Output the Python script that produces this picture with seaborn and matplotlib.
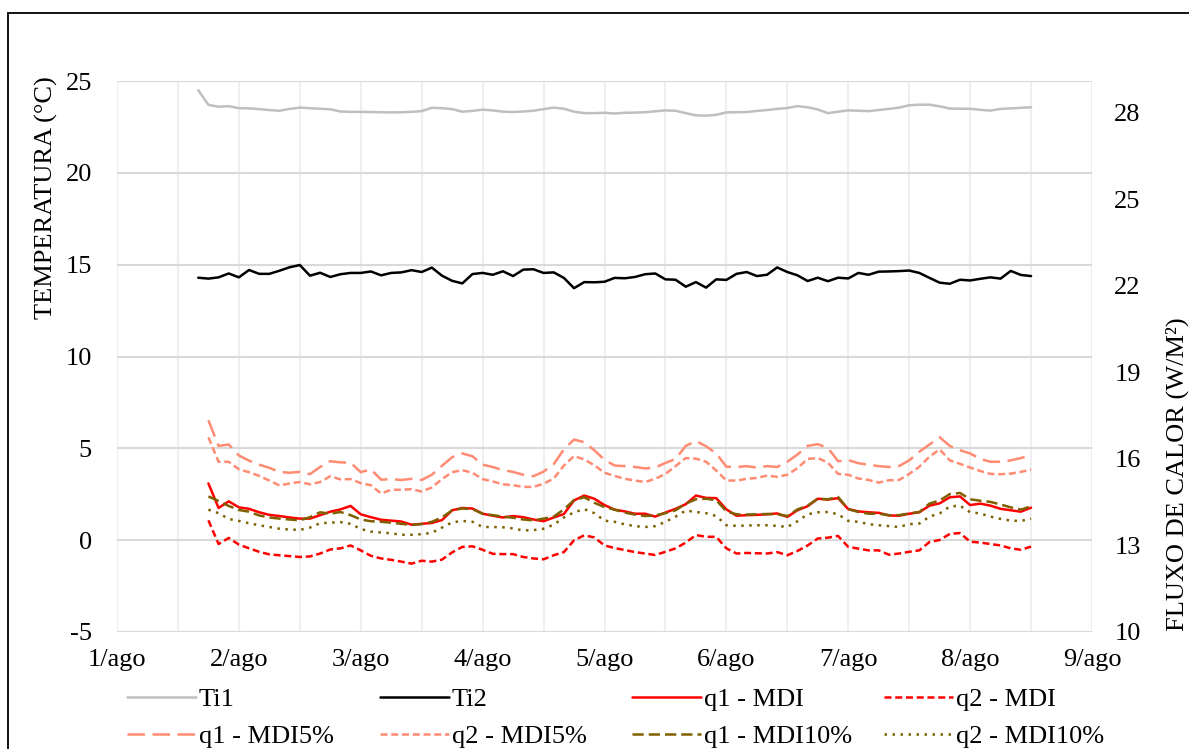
import numpy as np
import pandas as pd
import matplotlib
matplotlib.use("Agg")
import matplotlib.pyplot as plt
import matplotlib.dates as mdates
from matplotlib.ticker import FuncFormatter
from matplotlib.patches import Rectangle
import seaborn as sns

# ---------------- data (2-hourly readings) ----------------
times = pd.date_range("2019-08-01 16:00", "2019-08-08 12:00", freq="2h")

Ti1 = [24.50, 23.70, 23.60, 23.63, 23.52, 23.51, 23.47, 23.42, 23.38, 23.48,
       23.55, 23.52, 23.49, 23.46, 23.34, 23.32, 23.32, 23.31, 23.30, 23.29,
       23.30, 23.32, 23.36, 23.54, 23.52, 23.47, 23.33, 23.37, 23.44, 23.40,
       23.33, 23.31, 23.34, 23.38, 23.47, 23.55, 23.49, 23.33, 23.25, 23.25,
       23.27, 23.23, 23.27, 23.28, 23.30, 23.35, 23.40, 23.38, 23.25, 23.13,
       23.11, 23.16, 23.29, 23.30, 23.31, 23.37, 23.42, 23.48, 23.53, 23.63,
       23.57, 23.45, 23.25, 23.33, 23.40, 23.38, 23.36, 23.42, 23.48, 23.55,
       23.68, 23.71, 23.71, 23.62, 23.50, 23.49, 23.49, 23.43, 23.39, 23.48,
       23.51, 23.54, 23.57]

Ti2 = [14.29, 14.24, 14.31, 14.52, 14.31, 14.71, 14.50, 14.50, 14.67, 14.86,
       14.98, 14.40, 14.56, 14.33, 14.48, 14.55, 14.55, 14.63, 14.42, 14.55,
       14.58, 14.70, 14.60, 14.84, 14.40, 14.12, 13.98, 14.49, 14.55, 14.45,
       14.64, 14.38, 14.73, 14.75, 14.55, 14.58, 14.28, 13.72, 14.05, 14.04,
       14.07, 14.28, 14.26, 14.33, 14.48, 14.52, 14.20, 14.18, 13.80, 14.05,
       13.75, 14.20, 14.17, 14.50, 14.60, 14.38, 14.45, 14.85, 14.60, 14.42,
       14.11, 14.29, 14.10, 14.29, 14.25, 14.55, 14.45, 14.62, 14.63, 14.65,
       14.68, 14.55, 14.28, 14.02, 13.96, 14.18, 14.14, 14.23, 14.31, 14.24,
       14.66, 14.44, 14.38]

q1_MDI = [np.nan,
          15.15, 14.30, 14.53, 14.32, 14.27, 14.15, 14.06, 14.02, 13.97,
          13.93, 13.93, 14.05, 14.17, 14.25, 14.37, 14.08, 13.98, 13.89, 13.86,
          13.83, 13.72, 13.75, 13.78, 13.88, 14.22, 14.30, 14.28, 14.10, 14.03,
          13.97, 14.02, 13.98, 13.90, 13.84, 13.97, 14.09, 14.56, 14.73, 14.62,
          14.40, 14.24, 14.18, 14.10, 14.10, 14.00, 14.14, 14.27, 14.43, 14.73,
          14.65, 14.64, 14.25, 14.03, 14.05, 14.06, 14.08, 14.11, 13.99, 14.22,
          14.36, 14.62, 14.59, 14.64, 14.26, 14.18, 14.15, 14.13, 14.04, 14.03,
          14.10, 14.15, 14.38, 14.46, 14.67, 14.70, 14.40, 14.45, 14.38, 14.27,
          14.22, 14.17, 14.31]

q2_MDI = [np.nan,
          13.87, 13.05, 13.26, 13.03, 12.90, 12.78, 12.69, 12.66, 12.63,
          12.60, 12.62, 12.72, 12.86, 12.90, 13.00, 12.83, 12.64, 12.55, 12.50,
          12.44, 12.37, 12.47, 12.44, 12.51, 12.76, 12.95, 12.97, 12.85, 12.71,
          12.70, 12.70, 12.60, 12.55, 12.52, 12.66, 12.77, 13.18, 13.35, 13.28,
          13.00, 12.91, 12.84, 12.77, 12.72, 12.67, 12.78, 12.90, 13.10, 13.36,
          13.30, 13.30, 12.90, 12.72, 12.74, 12.73, 12.72, 12.77, 12.66, 12.81,
          13.00, 13.24, 13.27, 13.33, 12.95, 12.89, 12.83, 12.83, 12.68, 12.72,
          12.78, 12.83, 13.12, 13.19, 13.40, 13.43, 13.13, 13.10, 13.05, 13.00,
          12.90, 12.85, 12.96]

q1_MDI5 = [np.nan,
           17.34, 16.45, 16.50, 16.12, 15.94, 15.80, 15.69, 15.55, 15.52,
           15.55, 15.47, 15.72, 15.92, 15.88, 15.87, 15.54, 15.64, 15.28, 15.30,
           15.27, 15.31, 15.27, 15.45, 15.76, 16.06, 16.19, 16.09, 15.80, 15.72,
           15.61, 15.55, 15.45, 15.40, 15.56, 15.82, 16.33, 16.67, 16.58, 16.30,
           15.97, 15.77, 15.75, 15.72, 15.67, 15.70, 15.86, 16.00, 16.45, 16.62,
           16.44, 16.19, 15.73, 15.72, 15.75, 15.70, 15.75, 15.72, 15.90, 16.15,
           16.45, 16.51, 16.38, 15.92, 15.96, 15.85, 15.80, 15.75, 15.72, 15.75,
           15.95, 16.25, 16.50, 16.75, 16.45, 16.30, 16.19, 16.00, 15.90, 15.90,
           15.95, 16.03, 16.12]

q2_MDI5 = [np.nan,
           16.75, 15.90, 15.90, 15.64, 15.54, 15.41, 15.25, 15.08, 15.15,
           15.20, 15.12, 15.20, 15.40, 15.29, 15.30, 15.16, 15.09, 14.80, 14.93,
           14.93, 14.95, 14.87, 15.01, 15.30, 15.54, 15.61, 15.52, 15.30, 15.22,
           15.12, 15.09, 15.03, 15.03, 15.14, 15.32, 15.77, 16.10, 15.98, 15.78,
           15.52, 15.41, 15.31, 15.25, 15.20, 15.31, 15.48, 15.75, 16.03, 16.01,
           15.90, 15.60, 15.25, 15.25, 15.31, 15.34, 15.42, 15.38, 15.45, 15.68,
           16.00, 16.03, 15.87, 15.48, 15.45, 15.32, 15.27, 15.18, 15.26, 15.27,
           15.48, 15.73, 16.08, 16.33, 15.95, 15.83, 15.70, 15.58, 15.48, 15.47,
           15.49, 15.55, 15.63]

q1_MDI10 = [np.nan,
            14.70, 14.54, 14.37, 14.23, 14.17, 14.04, 13.97, 13.93, 13.90,
            13.87, 13.98, 14.15, 14.10, 14.16, 14.05, 13.90, 13.84, 13.82, 13.79,
            13.75, 13.71, 13.74, 13.82, 13.97, 14.22, 14.28, 14.26, 14.10, 14.05,
            14.00, 13.96, 13.90, 13.87, 13.93, 14.00, 14.25, 14.57, 14.67, 14.48,
            14.33, 14.24, 14.14, 14.07, 14.02, 14.04, 14.12, 14.22, 14.45, 14.60,
            14.62, 14.57, 14.18, 14.08, 14.07, 14.08, 14.09, 14.08, 14.02, 14.25,
            14.38, 14.62, 14.60, 14.68, 14.26, 14.16, 14.10, 14.10, 14.05, 14.05,
            14.11, 14.16, 14.45, 14.56, 14.78, 14.82, 14.60, 14.55, 14.51, 14.42,
            14.32, 14.24, 14.36]

q2_MDI10 = [np.nan,
            14.24, 14.12, 13.92, 13.85, 13.77, 13.70, 13.64, 13.58, 13.55,
            13.54, 13.62, 13.77, 13.79, 13.81, 13.75, 13.57, 13.48, 13.45, 13.42,
            13.37, 13.37, 13.39, 13.44, 13.62, 13.80, 13.85, 13.82, 13.64, 13.64,
            13.63, 13.59, 13.52, 13.53, 13.58, 13.72, 13.97, 14.15, 14.26, 14.12,
            13.86, 13.82, 13.73, 13.67, 13.64, 13.67, 13.82, 14.00, 14.21, 14.16,
            14.12, 14.02, 13.70, 13.68, 13.69, 13.70, 13.70, 13.68, 13.64, 13.84,
            14.08, 14.15, 14.16, 14.08, 13.85, 13.82, 13.74, 13.70, 13.67, 13.64,
            13.74, 13.76, 14.00, 14.11, 14.35, 14.38, 14.15, 14.11, 14.00, 13.92,
            13.86, 13.85, 13.93]

left_ticks = [-5, 0, 5, 10, 15, 20, 25]
right_ticks = [10, 13, 16, 19, 22, 25, 28]

df = pd.DataFrame({"t": times, "Ti1": Ti1, "Ti2": Ti2,
                   "q1_MDI": q1_MDI, "q2_MDI": q2_MDI,
                   "q1_MDI5": q1_MDI5, "q2_MDI5": q2_MDI5,
                   "q1_MDI10": q1_MDI10, "q2_MDI10": q2_MDI10})

# ---------------- style ----------------
sns.set_theme(style="white")
plt.rcParams["font.family"] = ["Liberation Serif", "DejaVu Serif"]
plt.rcParams["text.color"] = "black"
plt.rcParams["axes.unicode_minus"] = False

W, H = 1189, 749
fig = plt.figure(figsize=(W / 100, H / 100), dpi=100)
fig.patch.set_facecolor("white")
ax = fig.add_axes([117 / W, 1 - 632 / H, (1092 - 117) / W, (632 - 81) / H])
ax2 = ax.twinx()

LW = 1.8
SALMON = "#FF8B73"
OLIVE = "#7F6000"

series_left = [
    ("Ti1", "Ti1", "#BFBFBF", "-"),
    ("Ti2", "Ti2", "#000000", "-"),
]
series_right = [
    ("q1_MDI", "q1 - MDI", "#FF0000", "-"),
    ("q2_MDI", "q2 - MDI", "#FF0000", (0, (2.8, 1.5))),
    ("q1_MDI5", "q1 - MDI5%", SALMON, (0, (7, 3))),
    ("q2_MDI5", "q2 - MDI5%", SALMON, (0, (2.8, 1.5))),
    ("q1_MDI10", "q1 - MDI10%", OLIVE, (0, (4.5, 2))),
    ("q2_MDI10", "q2 - MDI10%", OLIVE, (0, (1, 2.2))),
]

handles = {}
for col, lab, colr, ls in series_left:
    sns.lineplot(data=df, x="t", y=col, ax=ax, color=colr, lw=LW,
                 linestyle=ls, label=lab, legend=False, errorbar=None)
for col, lab, colr, ls in series_right:
    sns.lineplot(data=df, x="t", y=col, ax=ax2, color=colr, lw=LW,
                 linestyle=ls, label=lab, legend=False, errorbar=None)

for a in (ax, ax2):
    for ln in a.get_lines():
        handles[ln.get_label()] = ln

# ---------------- axes ----------------
ax.set_xlim(pd.Timestamp("2019-08-01"), pd.Timestamp("2019-08-09"))
ax.set_ylim(-5, 25)
ax.set_yticks(left_ticks)
ax2.set_ylim(10, 29.1)
ax2.set_yticks(right_ticks)

ax.xaxis.set_major_locator(mdates.DayLocator())
ax.xaxis.set_minor_locator(mdates.HourLocator(byhour=[12]))
ax.xaxis.set_major_formatter(
    FuncFormatter(lambda v, p: f"{mdates.num2date(v).day}/ago"))

ax.set_axisbelow(True)
ax.grid(axis="x", which="both", color="#EFEFEF", lw=1.5)
ax.grid(axis="y", which="major", color="#D9D9D9", lw=1.5)
ax2.grid(False)

for a in (ax, ax2):
    for s in a.spines.values():
        s.set_visible(False)
    a.set_xlabel("")
    a.set_ylabel("")

ax.tick_params(axis="y", labelsize=19, pad=18, length=0, labelcolor="black")
ax.tick_params(axis="x", which="both", labelsize=19, pad=12, length=0,
               labelcolor="black")
ax2.tick_params(axis="y", labelsize=19, pad=16, length=0, labelcolor="black")

fig.text(46 / W, 1 - 198 / H, "TEMPERATURA (°C)", rotation=90,
         ha="center", va="center", fontsize=19, color="black")
fig.text(1177 / W, 1 - 474 / H, "FLUXO DE CALOR (W/M²)", rotation=90,
         ha="center", va="center", fontsize=19, color="black")

# ---------------- legend (4 columns x 2 rows) ----------------
row1 = ["Ti1", "Ti2", "q1 - MDI", "q2 - MDI"]
row2 = ["q1 - MDI5%", "q2 - MDI5%", "q1 - MDI10%", "q2 - MDI10%"]
col_x = [127, 380, 632, 884]
for i in range(4):
    labs = [row1[i], row2[i]]
    fig.legend([handles[l] for l in labs], labs, loc="center left",
               bbox_to_anchor=(col_x[i] / W, 1 - 718 / H),
               frameon=False, fontsize=19, handlelength=2.6,
               handletextpad=0.12, borderpad=0, borderaxespad=0,
               labelspacing=0.52)

# outer border
fig.patches.append(Rectangle((8 / W, -0.05), 1.2, 1.05 - 13 / H,
                             transform=fig.transFigure, fill=False,
                             ec="black", lw=1.3))

fig.savefig("out.png", dpi=100, facecolor="white")
